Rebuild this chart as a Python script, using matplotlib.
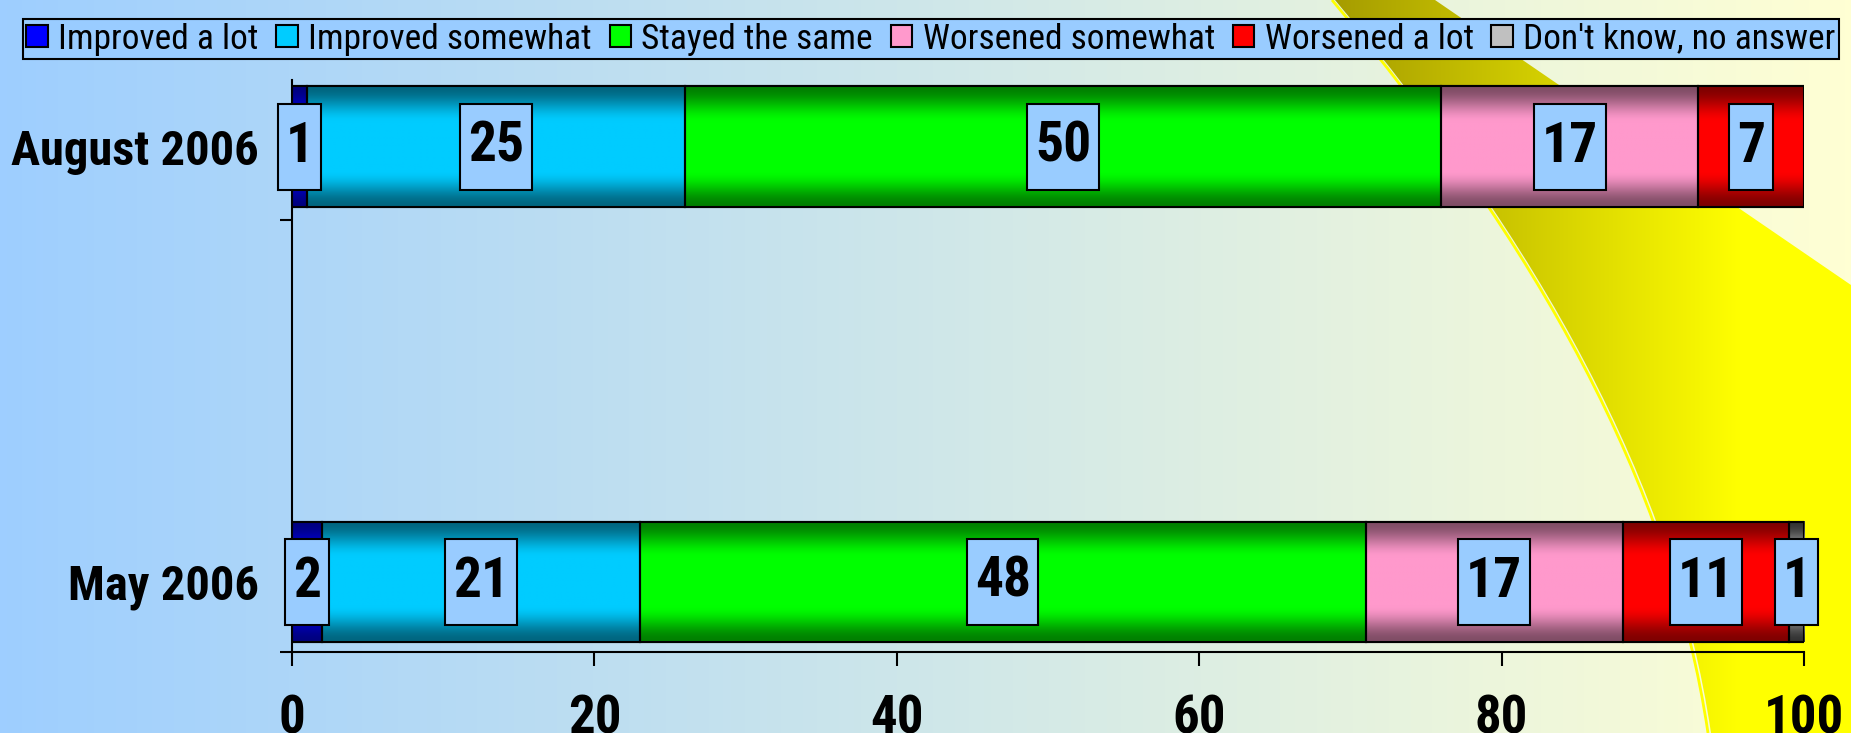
#!/usr/bin/env python3
# -*- coding=utf-8 -*-
import numpy as np
from matplotlib import pyplot as plt
from matplotlib import colors as mcolors
from matplotlib.path import Path
from matplotlib.patches import PathPatch

NARROW = ['Roboto Condensed', 'PT Sans Narrow', 'Liberation Sans', 'DejaVu Sans']

# data
categories = ['May 2006', 'August 2006']
series_names = ['Improved a lot', 'Improved somewhat', 'Stayed the same',
                'Worsened somewhat', 'Worsened a lot', "Don't know, no answer"]
may_2006 = [2, 21, 48, 17, 11, 1]
aug_2006 = [1, 25, 50, 17, 7, 0]
x_ticks = [0, 20, 40, 60, 80, 100]

# bar colours: middle of the bar / top and bottom edge
bright = ['#0000ff', '#00ccff', '#00ff00', '#ff99cc', '#ff0000', '#c0c0c0']
dark = ['#000080', '#006680', '#008000', '#804d66', '#800000', '#333333']


def bar_gradient(c_mid, c_edge, n=64):
    t = np.linspace(0, 1, n)
    f = np.clip((1 - np.abs(2 * t - 1)) / 0.6, 0, 1)
    f = f * f * (3 - 2 * f)
    c1 = np.array(mcolors.to_rgb(c_mid))
    c0 = np.array(mcolors.to_rgb(c_edge))
    rgb = c0[None, :] + (c1 - c0)[None, :] * f[:, None]
    return rgb[:, None, :]


def label_box(x0, y0, width, height, mutation_size):
    # box around the value labels: taller than wide padding
    px = 0.14 * mutation_size
    py = 0.31 * mutation_size
    x0, y0 = x0 - px, y0 - py
    x1, y1 = x0 + width + 2 * px, y0 + height + 2 * py
    return Path([(x0, y0), (x1, y0), (x1, y1), (x0, y1), (x0, y0)], closed=True)


fig = plt.figure(figsize=(18.51, 7.33), dpi=100)

# background: blue -> pale yellow, with a yellow swoosh on the right
bg = fig.add_axes([0, 0, 1, 1], zorder=-1)
bg.axis('off')
W, H = 1851, 733
grad = np.linspace(0, 1, 256)
left_c = np.array([0.62, 0.81, 1.0])
right_c = np.array([1.0, 1.0, 0.83])
bg_img = left_c[None, None, :] + (right_c - left_c)[None, None, :] * grad[None, :, None]
bg.imshow(bg_img, extent=(0, W, H, 0), aspect='auto')

verts = [(1335, 0), (1540, 245), (1674, 483), (1711, H), (W, H), (W, 285), (1435, 0), (1335, 0)]
codes = [Path.MOVETO, Path.CURVE4, Path.CURVE4, Path.CURVE4,
         Path.LINETO, Path.LINETO, Path.LINETO, Path.CLOSEPOLY]
swoosh = PathPatch(Path(verts, codes), facecolor='none', edgecolor='none', transform=bg.transData)
bg.add_patch(swoosh)
g = np.clip(np.linspace(0, 1, 256) / 0.8, 0, 1)
olive = np.array([0.62, 0.58, 0.0])
yellow = np.array([1.0, 1.0, 0.0])
sw_img = olive[None, None, :] + (yellow - olive)[None, None, :] * g[None, :, None]
im = bg.imshow(sw_img, extent=(1300, W, H, 0), aspect='auto')
im.set_clip_path(swoosh)
edge = PathPatch(Path([(x - 3, y) for x, y in verts[:4]], codes[:4]), facecolor='none',
                 edgecolor='#ffff00', lw=2, transform=bg.transData)
bg.add_patch(edge)
bg.set_xlim(0, W)
bg.set_ylim(H, 0)

# chart
ax = fig.add_axes([0.1578, 0.1105, 0.8168, 0.7804], zorder=1)
ax.set_facecolor('none')

rows = np.array([may_2006, aug_2006])
y_pos = np.arange(len(categories))
bar_h = 0.278
lefts = np.zeros(len(categories))
for i, name in enumerate(series_names):
    vals = rows[:, i]
    bars = ax.barh(y_pos, vals, left=lefts, height=bar_h, color=bright[i],
                   edgecolor='black', linewidth=1.5, label=name, zorder=2)
    for p, v in zip(bars, vals):
        if v == 0:
            continue
        x0, y0 = p.get_xy()
        ax.imshow(bar_gradient(bright[i], dark[i]), extent=(x0, x0 + p.get_width(), y0, y0 + p.get_height()),
                  aspect='auto', interpolation='bilinear', zorder=2.5)
        ax.add_patch(plt.Rectangle((x0, y0), p.get_width(), p.get_height(), fill=False,
                                   edgecolor='black', lw=1.5, zorder=3))
        ax.text(x0 + p.get_width() / 2, y0 + p.get_height() / 2, str(v), ha='center', va='center',
                fontsize=40, weight='bold', family=NARROW, zorder=5,
                bbox=dict(boxstyle=label_box, fc='#99ccff', ec='black', lw=1.5))
    lefts = lefts + vals

ax.set_xlim(0, 100)
ax.set_ylim(-0.161, 1.154)
ax.set_aspect('auto')

for s in ['top', 'right']:
    ax.spines[s].set_visible(False)
for s in ['left', 'bottom']:
    ax.spines[s].set_linewidth(1.5)

ax.set_xticks(x_ticks)
ax.set_xticklabels([str(t) for t in x_ticks], fontsize=38, weight='bold', family=NARROW)
ax.tick_params(axis='x', length=10, width=1.5, pad=20)

ax.set_yticks(y_pos)
ax.set_yticklabels(categories, fontsize=35, weight='bold', family=NARROW)
ax.tick_params(axis='y', which='major', length=0, pad=24)
ax.set_yticks([-0.161, 0.832], minor=True)
ax.tick_params(axis='y', which='minor', length=9, width=1.5)

leg = fig.legend(loc='upper center', bbox_to_anchor=(0.503, 0.974), ncol=6,
                 prop={'family': NARROW, 'size': 25.5}, frameon=True, fancybox=False,
                 facecolor='#99ccff', edgecolor='black', framealpha=1,
                 handlelength=0.6, handleheight=0.6, handletextpad=0.3,
                 columnspacing=0.5, borderpad=0.1, borderaxespad=0)
leg.get_frame().set_linewidth(1.5)
for h in leg.legend_handles:
    h.set_edgecolor('black')
    h.set_linewidth(1.5)

plt.savefig('out.png', dpi=100)
